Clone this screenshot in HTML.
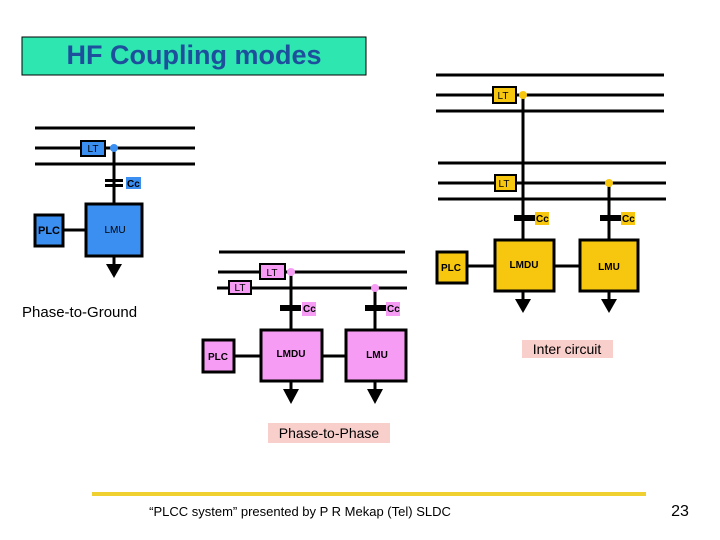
<!DOCTYPE html>
<html><head><style>
body{margin:0;background:#fff;}
svg{display:block;}
text{font-family:"Liberation Sans",sans-serif;}
</style></head><body>
<svg width="720" height="540" viewBox="0 0 720 540" xmlns="http://www.w3.org/2000/svg">
<rect x="22" y="37" width="344" height="38" fill="#2ee6b0" stroke="#000" stroke-width="1"/>
<text x="194" y="64" font-size="27" font-weight="bold" fill="#1e4f9c" text-anchor="middle">HF Coupling modes</text>

<g stroke="#000" stroke-width="3" fill="none">
<line x1="35" y1="128" x2="195" y2="128"/>
<line x1="35" y1="148" x2="195" y2="148"/>
<line x1="35" y1="164" x2="195" y2="164"/>
<line x1="114" y1="148" x2="114" y2="204"/>
<line x1="63" y1="230" x2="85" y2="230"/>
<line x1="114" y1="256" x2="114" y2="266"/>
<line x1="219" y1="252" x2="405" y2="252"/>
<line x1="218" y1="272" x2="407" y2="272"/>
<line x1="217" y1="288" x2="407" y2="288"/>
<line x1="291" y1="272" x2="291" y2="330"/>
<line x1="375" y1="288" x2="375" y2="330"/>
<line x1="234" y1="356" x2="260" y2="356"/>
<line x1="322" y1="356" x2="345" y2="356"/>
<line x1="291" y1="381" x2="291" y2="390"/>
<line x1="375" y1="381" x2="375" y2="390"/>
<line x1="436" y1="75" x2="664" y2="75"/>
<line x1="436" y1="95" x2="664" y2="95"/>
<line x1="436" y1="111" x2="664" y2="111"/>
<line x1="438" y1="163" x2="666" y2="163"/>
<line x1="438" y1="183" x2="666" y2="183"/>
<line x1="438" y1="199" x2="666" y2="199"/>
<line x1="523" y1="95" x2="523" y2="240"/>
<line x1="609" y1="183" x2="609" y2="240"/>
<line x1="467" y1="266" x2="494" y2="266"/>
<line x1="554" y1="266" x2="579" y2="266"/>
<line x1="523" y1="291" x2="523" y2="300"/>
<line x1="609" y1="291" x2="609" y2="300"/>
</g>

<rect x="81" y="141" width="24" height="15" fill="#3b8ff0" stroke="#000" stroke-width="2"/>
<text x="93" y="152" font-size="10" fill="#000" text-anchor="middle">LT</text>
<circle cx="114" cy="148" r="4" fill="#3b8ff0"/>
<rect x="105" y="179" width="18" height="3" fill="#000"/>
<rect x="105" y="184" width="18" height="3" fill="#000"/>
<rect x="126" y="177" width="15" height="12" fill="#3b8ff0"/>
<text x="127" y="187" font-size="10" font-weight="bold" fill="#000">Cc</text>
<rect x="86" y="204" width="56" height="52" fill="#3b8ff0" stroke="#000" stroke-width="3"/>
<text x="115" y="233" font-size="10" fill="#000" text-anchor="middle">LMU</text>
<rect x="35" y="215" width="28" height="31" fill="#3b8ff0" stroke="#000" stroke-width="3"/>
<text x="49" y="234" font-size="11" font-weight="bold" fill="#000" text-anchor="middle">PLC</text>
<polygon points="106,264 122,264 114,278" fill="#000"/>
<text x="22" y="317" font-size="15" fill="#000">Phase-to-Ground</text>

<rect x="260" y="264" width="25" height="15" fill="#f79cf5" stroke="#000" stroke-width="2"/>
<text x="272" y="276" font-size="10" text-anchor="middle">LT</text>
<circle cx="291" cy="272" r="4" fill="#f79cf5"/>
<rect x="229" y="281" width="22" height="13" fill="#f79cf5" stroke="#000" stroke-width="2"/>
<text x="240" y="291" font-size="10" text-anchor="middle">LT</text>
<circle cx="375" cy="288" r="4" fill="#f79cf5"/>
<rect x="280" y="305" width="21" height="6" fill="#000"/>
<rect x="365" y="305" width="21" height="6" fill="#000"/>
<rect x="302" y="302" width="14" height="14" fill="#f79cf5"/>
<text x="303" y="312" font-size="10" font-weight="bold">Cc</text>
<rect x="386" y="302" width="14" height="14" fill="#f79cf5"/>
<text x="387" y="312" font-size="10" font-weight="bold">Cc</text>
<rect x="261" y="330" width="61" height="51" fill="#f79cf5" stroke="#000" stroke-width="3"/>
<text x="291" y="357" font-size="10" font-weight="bold" text-anchor="middle">LMDU</text>
<rect x="346" y="330" width="60" height="51" fill="#f79cf5" stroke="#000" stroke-width="3"/>
<text x="377" y="358" font-size="10" font-weight="bold" text-anchor="middle">LMU</text>
<rect x="203" y="340" width="31" height="32" fill="#f79cf5" stroke="#000" stroke-width="3"/>
<text x="218" y="360" font-size="10" font-weight="bold" text-anchor="middle">PLC</text>
<polygon points="283,389 299,389 291,404" fill="#000"/>
<polygon points="367,389 383,389 375,404" fill="#000"/>
<rect x="268" y="423" width="122" height="20" fill="#f9cfcc"/>
<text x="329" y="438" font-size="14" text-anchor="middle">Phase-to-Phase</text>

<rect x="493" y="87" width="23" height="16" fill="#f7c70f" stroke="#000" stroke-width="2"/>
<text x="503" y="99" font-size="10" text-anchor="middle">LT</text>
<circle cx="523" cy="95" r="4" fill="#f7c70f"/>
<rect x="495" y="175" width="21" height="16" fill="#f7c70f" stroke="#000" stroke-width="2"/>
<text x="504" y="187" font-size="10" text-anchor="middle">LT</text>
<circle cx="609" cy="183" r="4" fill="#f7c70f"/>
<rect x="514" y="215" width="21" height="6" fill="#000"/>
<rect x="600" y="215" width="21" height="6" fill="#000"/>
<rect x="535" y="212" width="14" height="13" fill="#f7c70f"/>
<text x="536" y="222" font-size="10" font-weight="bold">Cc</text>
<rect x="621" y="212" width="14" height="13" fill="#f7c70f"/>
<text x="622" y="222" font-size="10" font-weight="bold">Cc</text>
<rect x="495" y="240" width="59" height="51" fill="#f7c70f" stroke="#000" stroke-width="3"/>
<text x="524" y="268" font-size="10" font-weight="bold" text-anchor="middle">LMDU</text>
<rect x="580" y="240" width="58" height="51" fill="#f7c70f" stroke="#000" stroke-width="3"/>
<text x="609" y="270" font-size="10" font-weight="bold" text-anchor="middle">LMU</text>
<rect x="437" y="252" width="30" height="31" fill="#f7c70f" stroke="#000" stroke-width="3"/>
<text x="451" y="271" font-size="10" font-weight="bold" text-anchor="middle">PLC</text>
<polygon points="515,299 531,299 523,313" fill="#000"/>
<polygon points="601,299 617,299 609,313" fill="#000"/>
<rect x="522" y="340" width="91" height="18" fill="#f9cfcc"/>
<text x="567" y="354" font-size="14" text-anchor="middle">Inter circuit</text>

<rect x="92" y="492" width="554" height="4" fill="#f0d030"/>
<text x="300" y="516" font-size="13" fill="#000" text-anchor="middle">“PLCC system” presented by P R Mekap (Tel) SLDC</text>
<text x="680" y="516" font-size="16" fill="#000" text-anchor="middle">23</text>
</svg>
</body></html>
